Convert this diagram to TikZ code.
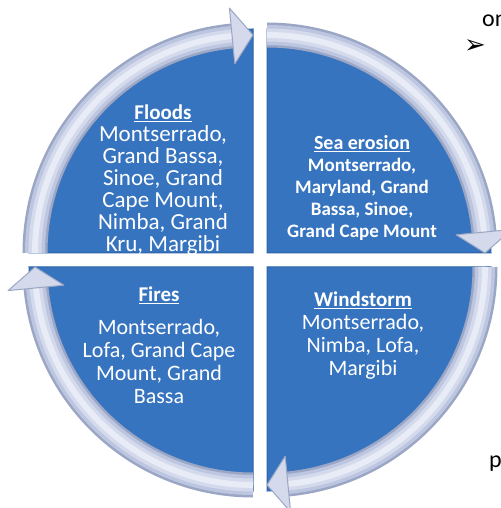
\documentclass[tikz,border=0pt]{standalone}
\usepackage{fontspec}
\setmainfont{Carlito}
\newfontfamily\symfont{DejaVu Sans}
\usetikzlibrary{calc}
\definecolor{quadblue}{HTML}{3674C0}
\definecolor{quadedge}{HTML}{2E62A6}
\definecolor{ringedge}{HTML}{9AA6C3}
\definecolor{ringmid}{HTML}{BCC6E0}
\definecolor{ringsoft}{HTML}{D4DAEC}
\definecolor{ringlight}{HTML}{E8ECF6}

\begin{document}
\begin{tikzpicture}[x=1pt,y=1pt]
                \tikzstyle{quad}     = [fill=quadblue, draw=quadedge, line width=1pt]
                \tikzstyle{ringhead} = [fill=ringsoft, draw=ringedge, line width=1pt, line join=round]
                \tikzstyle{quadtext} = [text=white, align=center, inner sep=0pt]
                \useasboundingbox (-260,-248) rectangle (240,260);
                %%Quadrants
                \foreach \r in {0,-90,-180,-270}{
                  \begin{scope}[rotate=\r]
                    \coordinate (c) at (-7,7);
                    \draw[quad] (c) -- ($(c)+(180:224)$) arc[start angle=180, end angle=90, radius=224] -- cycle;
                  \end{scope}
                }
                %%Ring arrows
                \foreach \r in {0,-90,-180,-270}{
                  \begin{scope}[rotate=\r]
                    \coordinate (c) at (-7,7);
                    \draw[ringedge, line width=25pt] ($(c)+(180:218)$) arc[start angle=180, end angle=95, radius=218];
                    \draw[ringmid, line width=20pt] ($(c)+(180:218)$) arc[start angle=180, end angle=95, radius=218];
                    \draw[ringsoft, line width=13pt] ($(c)+(180:218)$) arc[start angle=180, end angle=95, radius=218];
                    \draw[ringlight, line width=6pt] ($(c)+(180:218)$) arc[start angle=180, end angle=95, radius=218];
                    \draw[ringhead] ($(c)+(95.5:190)$) -- ($(c)+(90:218)$) -- ($(c)+(95.5:246)$) -- cycle;
                  \end{scope}
                }
                %%Texts
                \node [quadtext, font=\fontsize{23}{22}\selectfont] (floods) at (-97,80)
                  {\underline{\textbf{\fontsize{21}{22}\selectfont Floods}}\\Montserrado,\\Grand Bassa,\\Sinoe, Grand\\Cape Mount,\\Nimba, Grand\\Kru, Margibi};
                \node [quadtext, font=\fontsize{19}{22}\selectfont\bfseries] (sea) at (102,72)
                  {\underline{\fontsize{20}{22}\selectfont Sea erosion}\\Montserrado,\\Maryland, Grand\\Bassa, Sinoe,\\Grand Cape Mount};
                \node [quadtext, font=\fontsize{22}{23}\selectfont] (fires) at (-101,-85)
                  {\underline{\textbf{\fontsize{21}{22}\selectfont Fires}}\\[10pt]Montserrado,\\Lofa, Grand Cape\\Mount, Grand\\Bassa};
                \node [quadtext, font=\fontsize{22}{23}\selectfont] (wind) at (103,-76)
                  {\underline{\textbf{\fontsize{21}{22}\selectfont Windstorm}}\\Montserrado,\\Nimba, Lofa,\\Margibi};
                %%Page text
                \node [anchor=base west, inner sep=0pt, font=\fontsize{24}{24}\selectfont] (on) at (222,233) {on};
                \node [inner sep=0pt, font=\symfont\fontsize{26}{26}\selectfont] (bullet) at (215,213) {➢};
                \node [anchor=base west, inner sep=0pt, font=\fontsize{24}{24}\selectfont] (p) at (229,-207) {p};
\end{tikzpicture}
\end{document}
